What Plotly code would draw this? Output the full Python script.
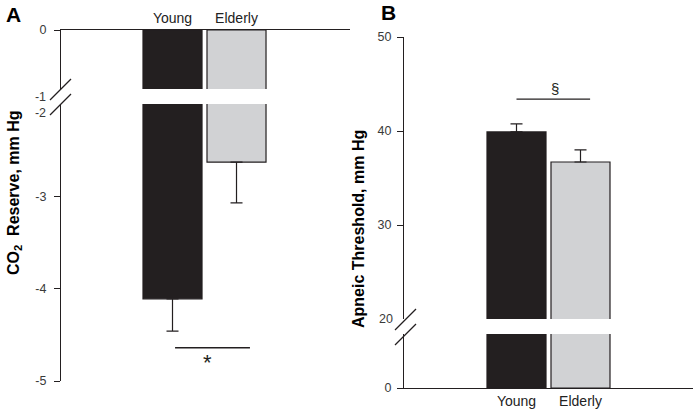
import plotly.graph_objects as go

# ---------------- data ----------------
groups = ["Young", "Elderly"]
group_pos = [0, 1]

# Panel A: CO2 reserve (mm Hg), mean and SE (one-sided, downward)
co2_reserve = [-4.11, -2.63]
co2_reserve_se = [0.35, 0.44]
co2_sig_x = [0.04, 1.21]
co2_sig_y = [-4.64, -4.64]

# Panel B: apneic threshold (mm Hg), mean and SE (one-sided, upward)
apneic_thr = [39.9, 36.7]
apneic_thr_se = [0.85, 1.3]
apneic_sig_x = [0.0, 1.15]
apneic_sig_y = [43.4, 43.4]

# tick labels
a_upper_ticks = [0]
a_upper_labels = ["0"]
a_break_upper_ticks = [-1]
a_break_upper_labels = ["-1"]
a_break_lower_ticks = [-2]
a_break_lower_labels = ["-2"]
a_lower_ticks = [-3, -4, -5]
a_lower_labels = ["-3", "-4", "-5"]
b_upper_ticks = [30, 40, 50]
b_upper_labels = ["30", "40", "50"]
b_break_ticks = [20]
b_break_labels = ["20"]
b_lower_ticks = [0]
b_lower_labels = ["0"]

# ---------------- style ----------------
W, H = 693, 412
DARK = "#231f20"
GRAY = "#d1d2d4"
TICKC = "#3a3a3a"
FONT = "Liberation Sans, Arial, sans-serif"
colors = [DARK, GRAY]


def fx(px):
    return px / W


def fy(py):
    return 1 - py / H


fig = go.Figure()

bar_common = dict(
    x=group_pos,
    width=0.922,
    marker=dict(color=colors, line=dict(color=DARK, width=1.2)),
    showlegend=False,
    hoverinfo="skip",
)

# Panel A bars (upper and lower segments of the broken axis)
fig.add_trace(go.Bar(y=co2_reserve, xaxis="x", yaxis="y", **bar_common))
fig.add_trace(go.Bar(
    y=co2_reserve, xaxis="x", yaxis="y2",
    error_y=dict(type="data", symmetric=False,
                 array=[0, 0], arrayminus=co2_reserve_se,
                 width=6, thickness=1.2, color=DARK),
    **bar_common))
fig.add_trace(go.Scatter(x=co2_sig_x, y=co2_sig_y, xaxis="x", yaxis="y2",
                         mode="lines", line=dict(color=DARK, width=1.3),
                         showlegend=False, hoverinfo="skip"))

# Panel B bars
fig.add_trace(go.Bar(
    y=apneic_thr, xaxis="x2", yaxis="y5",
    error_y=dict(type="data", symmetric=False,
                 array=apneic_thr_se, arrayminus=[0, 0],
                 width=6, thickness=1.2, color=DARK),
    **bar_common))
fig.add_trace(go.Bar(y=apneic_thr, xaxis="x2", yaxis="y6", **bar_common))
fig.add_trace(go.Scatter(x=apneic_sig_x, y=apneic_sig_y, xaxis="x2", yaxis="y5",
                         mode="lines", line=dict(color=DARK, width=1.3),
                         showlegend=False, hoverinfo="skip"))

# empty traces so the label-only overlay axes are drawn
for xa, ya in [("x", "y3"), ("x", "y4"), ("x2", "y7")]:
    fig.add_trace(go.Scatter(x=[], y=[], xaxis=xa, yaxis=ya, mode="markers",
                             showlegend=False, hoverinfo="skip"))

tickfont = dict(family=FONT, size=12.5, color=TICKC)
axis_common = dict(showgrid=False, zeroline=False, linecolor=DARK, linewidth=1.3,
                   tickcolor=DARK, tickwidth=1.2, ticklen=6, tickfont=tickfont,
                   fixedrange=True, automargin=False)
label_axis = dict(showgrid=False, zeroline=False, showline=False, ticks="",
                  tickfont=tickfont, fixedrange=True, automargin=False)
xfont = dict(family=FONT, size=14, color="#222222")

fig.update_layout(
    template="none",
    width=W, height=H,
    margin=dict(l=0, r=0, t=0, b=0, autoexpand=False),
    paper_bgcolor="white", plot_bgcolor="rgba(0,0,0,0)",
    barmode="overlay",
    font=dict(family=FONT),
    xaxis=dict(domain=[fx(61), fx(350)], range=[-1.742, 2.773], anchor="y",
               side="top", showline=True, ticks="", tickvals=group_pos,
               ticktext=groups, tickfont=xfont, showgrid=False, zeroline=False,
               linecolor=DARK, linewidth=1.3, fixedrange=True, automargin=False),
    yaxis=dict(domain=[fy(89), fy(30)], range=[-1, 0], anchor="x",
               showline=True, ticks="outside", tickvals=a_upper_ticks,
               ticktext=a_upper_labels, ticklabelstandoff=5, **axis_common),
    yaxis2=dict(domain=[fy(381), fy(104)], range=[-5, -2], anchor="x",
                showline=True, ticks="outside", tickvals=a_lower_ticks,
                ticktext=a_lower_labels, ticklabelstandoff=5, **axis_common),
    yaxis3=dict(overlaying="y", anchor="x", range=[-1, 0],
                tickvals=a_break_upper_ticks, ticktext=a_break_upper_labels,
                ticklabelshift=8, ticklabelstandoff=14, **label_axis),
    yaxis4=dict(overlaying="y2", anchor="x", range=[-5, -2],
                tickvals=a_break_lower_ticks, ticktext=a_break_lower_labels,
                ticklabelshift=9, ticklabelstandoff=14, **label_axis),
    xaxis2=dict(domain=[fx(404), 1], range=[-1.758, 2.758], anchor="y6",
                side="bottom", showline=True, ticks="", tickvals=group_pos,
                ticktext=groups, tickfont=xfont, showgrid=False, zeroline=False,
                linecolor=DARK, linewidth=1.3, fixedrange=True, automargin=False),
    yaxis5=dict(domain=[fy(319), fy(37)], range=[20, 50], anchor="x2",
                showline=True, ticks="outside", tickvals=b_upper_ticks,
                ticktext=b_upper_labels, ticklabelstandoff=3, **axis_common),
    yaxis6=dict(domain=[fy(388), fy(334)], range=[0, 10], anchor="x2",
                showline=True, ticks="outside", tickvals=b_lower_ticks,
                ticktext=b_lower_labels, ticklabelstandoff=3, **axis_common),
    yaxis7=dict(overlaying="y5", anchor="x2", range=[20, 50],
                tickvals=b_break_ticks, ticktext=b_break_labels,
                ticklabelstandoff=10, **label_axis),
)

# axis-break slashes (decoration, in pixel positions)
def slash(x0, y0, x1, y1):
    fig.add_shape(type="line", xref="paper", yref="paper",
                  x0=fx(x0), y0=fy(y0), x1=fx(x1), y1=fy(y1),
                  line=dict(color=DARK, width=1.3))

slash(50, 100, 71, 79)
slash(50, 115, 71, 94)
slash(395, 330, 416, 309)
slash(395, 345, 416, 324)

# significance markers
fig.add_annotation(x=0.54, y=co2_sig_y[0], xref="x", yref="y2", text="*",
                   showarrow=False, xanchor="center", yanchor="top", yshift=0,
                   font=dict(family=FONT, size=22, color=DARK))
fig.add_annotation(x=0.6, y=apneic_sig_y[0], xref="x2", yref="y5", text="§",
                   showarrow=False, xanchor="center", yanchor="bottom", yshift=0,
                   font=dict(family=FONT, size=15, color=DARK))

ctr = dict(xref="paper", yref="paper", showarrow=False,
           xanchor="center", yanchor="middle")
# axis titles
fig.add_annotation(x=fx(14), y=fy(193), text="<b>CO<sub>2</sub>  Reserve, mm Hg</b>",
                   textangle=-90, font=dict(family=FONT, size=16, color="black"), **ctr)
fig.add_annotation(x=fx(358), y=fy(229), text="<b>Apneic Threshold, mm Hg</b>",
                   textangle=-90, font=dict(family=FONT, size=16, color="black"), **ctr)

# panel letters
fig.add_annotation(x=fx(13), y=fy(15), text="<b>A</b>",
                   font=dict(family=FONT, size=21, color="black"), **ctr)
fig.add_annotation(x=fx(388), y=fy(13), text="<b>B</b>",
                   font=dict(family=FONT, size=21, color="black"), **ctr)

fig.write_html("out.html", config={"displayModeBar": False},
               post_script="document.body.style.margin='0px';")
